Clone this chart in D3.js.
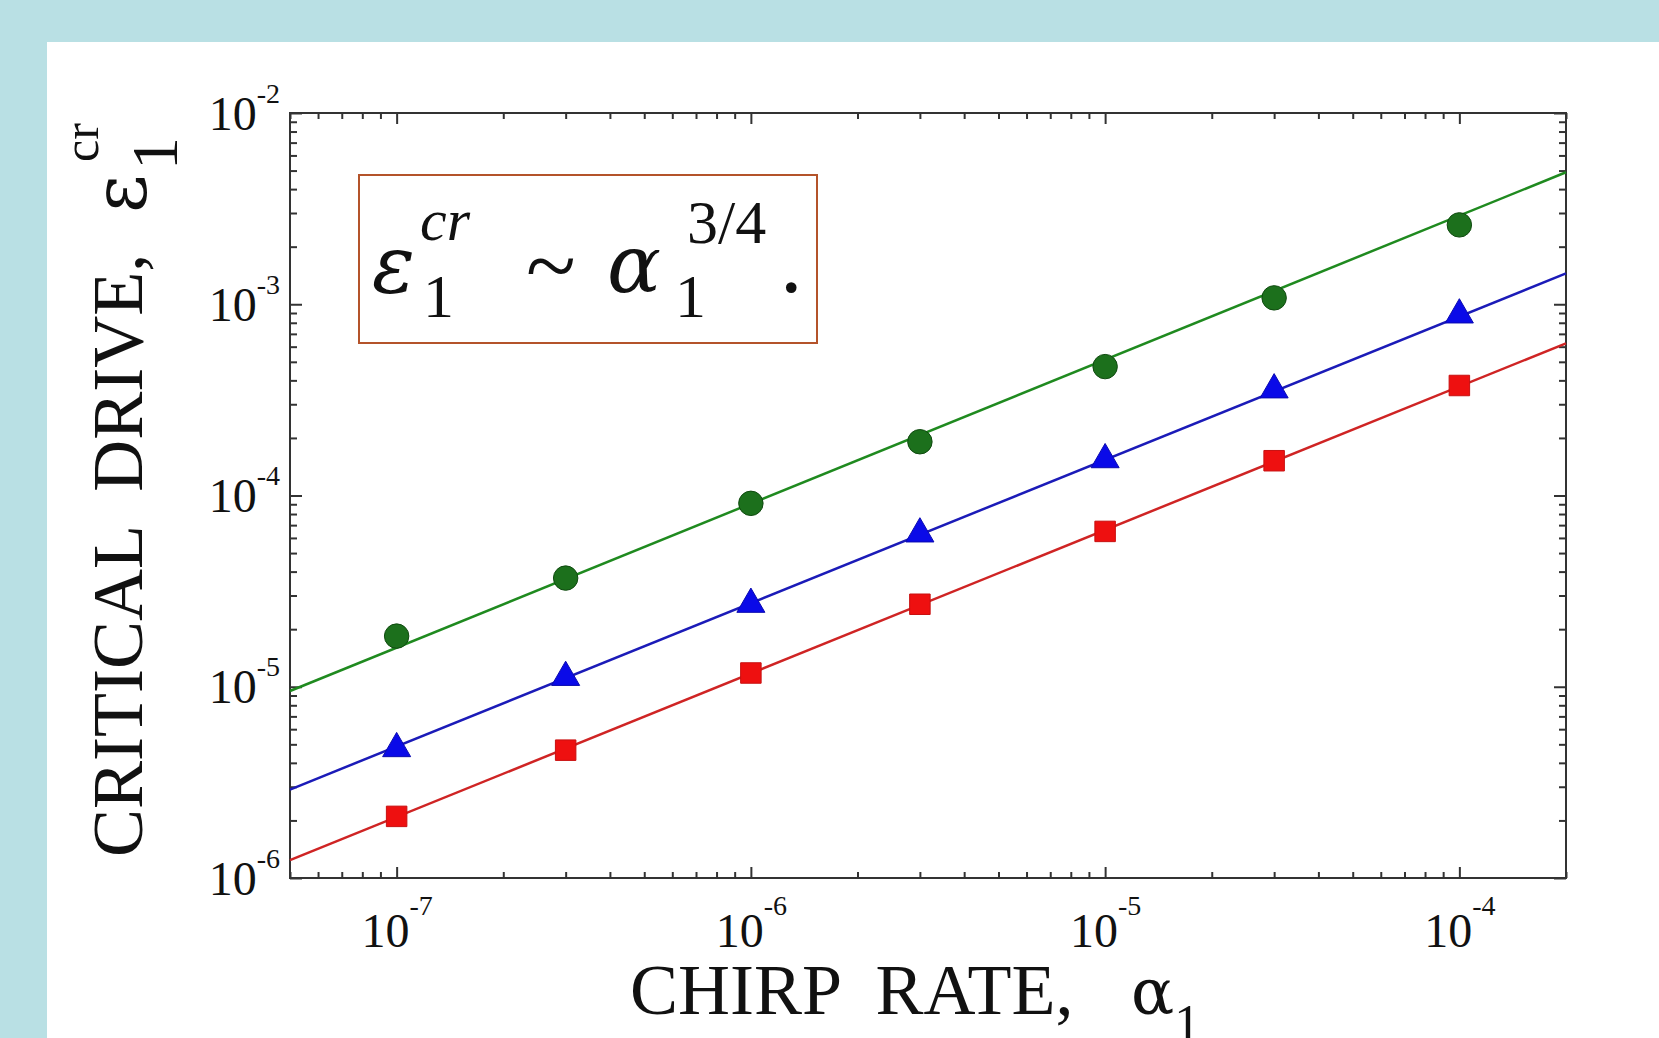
<!DOCTYPE html>
<html lang="en">
<head>
<meta charset="UTF-8">
<title>Critical drive vs chirp rate</title>
<style>
    body {
        margin: 0;
        background: #b9e0e4;
        overflow: hidden;
    }
    svg { display: block; }
    text {
        font-family: "Liberation Serif", "Times New Roman", serif;
        fill: #111;
    }
    .greek { font-family: "DejaVu Serif", serif; }
</style>
</head>
<body>
<svg width="1659" height="1038"></svg>

<script src="https://d3js.org/d3.v7.min.js"></script>
<script>
    // chirp rates where the critical drive was computed
    const alphaValues = [1e-7, 3e-7, 1e-6, 3e-6, 1e-5, 3e-5, 1e-4];

    // critical drive for the three series
    const greenDots = [1.84e-5, 3.7e-5, 9.1e-5, 1.91e-4, 4.72e-4, 1.08e-3, 2.6e-3];
    const blueTriangles = [4.75e-6, 1.12e-5, 2.7e-5, 6.3e-5, 1.54e-4, 3.57e-4, 8.8e-4];
    const redSquares = [2.1e-6, 4.66e-6, 1.18e-5, 2.7e-5, 6.49e-5, 1.52e-4, 3.76e-4];

    // fitted ~ alpha^(3/4) lines : value at both ends of the x range
    const fitAlpha = [5e-8, 2e-4];
    const greenFit = [9.5e-6, 4.9e-3];
    const blueFit = [2.9e-6, 1.45e-3];
    const redFit = [1.24e-6, 6.25e-4];

    // labelled ticks
    const xMajor = [1e-7, 1e-6, 1e-5, 1e-4];
    const yMajor = [1e-6, 1e-5, 1e-4, 1e-3, 1e-2];

    const series = [
        { values: greenDots, fit: greenFit, line: "#1f8a1f", fill: "#1c701c", stroke: "#0f4a0f", symbol: d3.symbolCircle, size: 470 },
        { values: blueTriangles, fit: blueFit, line: "#1b1bb8", fill: "#0a0ae8", stroke: "#0a0ab0", symbol: d3.symbolTriangle, size: 340 },
        { values: redSquares, fit: redFit, line: "#cf2424", fill: "#ee1010", stroke: "#c81010", symbol: d3.symbolSquare, size: 420 }
    ];

    const svg = d3.select("svg");
    const W = 1659, H = 1038;

    // white panel on the light blue slide
    svg.append("rect")
        .attr("x", 47).attr("y", 42)
        .attr("width", W - 47).attr("height", H - 42)
        .attr("fill", "#fff");

    const plotLeft = 290, plotRight = 1566, plotTop = 113, plotBottom = 878;

    const x = d3.scaleLog().domain([5e-8, 2e-4]).range([plotLeft, plotRight]);
    const y = d3.scaleLog().domain([1e-6, 1e-2]).range([plotBottom, plotTop]);

    const isMajor = v => Math.abs(Math.log10(v) - Math.round(Math.log10(v))) < 1e-9;
    const xMinor = x.ticks().filter(v => !isMajor(v));
    const yMinor = y.ticks().filter(v => !isMajor(v));

    // ticks point inward on all four sides
    function ticks(axis, values, size, transform) {
        const g = svg.append("g")
            .attr("transform", transform)
            .call(axis.tickValues(values).tickSize(-size).tickSizeOuter(0).tickFormat(""));
        g.select(".domain").remove();
        g.selectAll("line").attr("stroke", "#333").attr("stroke-width", 2);
        return g;
    }

    ticks(d3.axisBottom(x), xMinor, 6, `translate(0,${plotBottom})`);
    ticks(d3.axisTop(x), xMinor, 6, `translate(0,${plotTop})`);
    ticks(d3.axisLeft(y), yMinor, 7, `translate(${plotLeft},0)`);
    ticks(d3.axisRight(y), yMinor, 7, `translate(${plotRight},0)`);
    ticks(d3.axisTop(x), xMajor, 11, `translate(0,${plotTop})`);
    ticks(d3.axisRight(y), yMajor, 12, `translate(${plotRight},0)`);

    const gx = ticks(d3.axisBottom(x), xMajor, 11, `translate(0,${plotBottom})`);
    const gy = ticks(d3.axisLeft(y), yMajor, 12, `translate(${plotLeft},0)`);

    function powerLabel(text, v, shift) {
        text.text(null);
        text.append("tspan").text("10");
        text.append("tspan")
            .attr("font-size", 28)
            .attr("dy", shift)
            .text(Math.round(Math.log10(v)));
    }

    gx.selectAll(".tick text")
        .attr("font-size", 48)
        .attr("y", 69)
        .attr("dy", 0)
        .attr("fill", "#111")
        .each(function (d) { powerLabel(d3.select(this), d, -32); });

    gy.selectAll(".tick text")
        .attr("font-size", 48)
        .attr("x", -10)
        .attr("y", 16)
        .attr("dy", 0)
        .attr("fill", "#111")
        .each(function (d) { powerLabel(d3.select(this), d, -27); });

    // frame
    svg.append("rect")
        .attr("x", plotLeft).attr("y", plotTop)
        .attr("width", plotRight - plotLeft).attr("height", plotBottom - plotTop)
        .attr("fill", "none")
        .attr("stroke", "#333")
        .attr("stroke-width", 2);

    // fitted lines, then markers
    const line = d3.line()
        .x(d => x(d[0]))
        .y(d => y(d[1]));

    series.forEach(s => {
        svg.append("path")
            .datum(d3.zip(fitAlpha, s.fit))
            .attr("d", line)
            .attr("fill", "none")
            .attr("stroke", s.line)
            .attr("stroke-width", 2.5);
    });

    series.forEach(s => {
        svg.append("g")
            .selectAll("path")
            .data(d3.zip(alphaValues, s.values))
            .join("path")
            .attr("transform", d => `translate(${x(d[0])},${y(d[1])})`)
            .attr("d", d3.symbol().type(s.symbol).size(s.size))
            .attr("fill", s.fill)
            .attr("stroke", s.stroke)
            .attr("stroke-width", 1);
    });

    // formula box
    svg.append("rect")
        .attr("x", 359).attr("y", 175)
        .attr("width", 458).attr("height", 168)
        .attr("fill", "#fff")
        .attr("stroke", "#b4532a")
        .attr("stroke-width", 2);

    const formula = svg.append("g");
    const part = (px, py, size, str, italic, cls) => formula.append("text")
        .attr("class", cls || null)
        .attr("x", px).attr("y", py)
        .attr("font-size", size)
        .attr("font-style", italic ? "italic" : "normal")
        .text(str);

    part(372, 292, 80, "\u03b5", true, "greek");
    part(420, 240, 60, "cr", true);
    part(423, 317, 62, "1", false);
    part(526, 296, 92, "~", false);
    part(607, 292, 80, "\u03b1", true, "greek");
    part(675, 317, 62, "1", false);
    part(687, 243, 62, "3/4", false);
    part(780, 292, 90, ".", false);

    // axis titles
    const xTitle = svg.append("text")
        .attr("x", 630).attr("y", 1014)
        .attr("font-size", 72)
        .style("white-space", "pre");
    xTitle.append("tspan").text("CHIRP  RATE,");
    xTitle.append("tspan").attr("class", "greek").attr("x", 1131).attr("font-size", 64).text("\u03b1");
    xTitle.append("tspan").attr("font-size", 52).attr("dy", 27).text("1");

    const yTitle = svg.append("text")
        .attr("transform", "translate(142,857) rotate(-90)")
        .attr("font-size", 72)
        .style("white-space", "pre");
    yTitle.append("tspan").text("CRITICAL  DRIVE,");
    yTitle.append("tspan").attr("class", "greek").attr("x", 644).attr("y", 4).attr("font-size", 74).text("\u03b5");
    yTitle.append("tspan").attr("x", 687).attr("y", 35).attr("font-size", 66).text("1");
    yTitle.append("tspan").attr("x", 695).attr("y", -44).attr("font-size", 50).text("cr");
</script>
</body>
</html>
